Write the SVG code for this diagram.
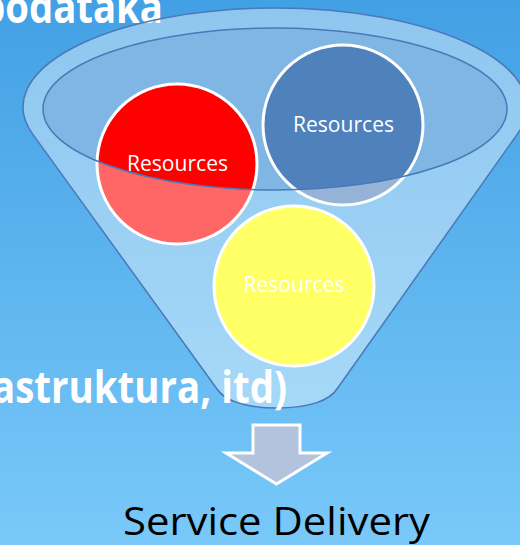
<svg xmlns="http://www.w3.org/2000/svg" width="520" height="545" viewBox="0 0 520 545">
  <defs>
    <linearGradient id="bg" x1="0" y1="0" x2="0" y2="1">
      <stop offset="0" stop-color="#42A0E4"/>
      <stop offset="1" stop-color="#79C9F9"/>
    </linearGradient>
    <style>
      .res { fill: #FFFFFF; font-family: "Open Sans", "Liberation Sans", sans-serif; font-size: 22px; text-anchor: middle; }
      .big { fill: #FFFFFF; font-family: "Open Sans", "Liberation Sans", sans-serif; font-weight: bold; font-size: 44px; text-anchor: end; }
      .circ { stroke: #FFFFFF; stroke-width: 3; }
      .outline { fill: none; stroke: #4A78B8; stroke-width: 1.5; }
    </style>
  </defs>

  <rect x="0" y="0" width="520" height="545" fill="url(#bg)"/>

  <text class="big" x="163" y="23" textLength="182" lengthAdjust="spacingAndGlyphs">podataka</text>

  <g id="funnel-top">
    <ellipse cx="275" cy="109" rx="232" ry="81" fill="#7FB6E3"/>
  </g>

  <g id="res-red">
    <circle class="circ" cx="177" cy="164" r="80" fill="#FF0000"/>
  </g>
  <g id="res-blue">
    <circle class="circ" cx="343" cy="125" r="80" fill="#4F81BD"/>
  </g>
  <g id="res-yellow">
    <circle class="circ" cx="294" cy="286" r="80" fill="#FFFF00"/>
  </g>

  <g id="funnel">
    <path fill="#FFFFFF" fill-opacity="0.4" fill-rule="evenodd"
      d="M32.5,133.9 A252,99 0 1,1 517.5,133.9 L337,389 C330,400 310,408 277,408 C244,408 224,400 217,389 Z
         M43,109 A232,81 0 1,0 507,109 A232,81 0 1,0 43,109 Z"/>
    <path class="outline" d="M32.5,133.9 A252,99 0 1,1 517.5,133.9 L337,389 C330,400 310,408 277,408 C244,408 224,400 217,389 Z"/>
    <ellipse class="outline" cx="275" cy="109" rx="232" ry="81"/>
  </g>

  <text class="res" x="177.5" y="171" textLength="101" lengthAdjust="spacingAndGlyphs">Resources</text>
  <text class="res" x="343.5" y="132" textLength="101" lengthAdjust="spacingAndGlyphs">Resources</text>
  <text class="res" x="294" y="292" textLength="101" lengthAdjust="spacingAndGlyphs">Resources</text>

  <text class="big" x="287" y="403" textLength="295" lengthAdjust="spacingAndGlyphs">astruktura, itd)</text>

  <g id="arrow">
    <polygon points="253,425 300,425 300,453 327,453 276.5,484 226,453 253,453" fill="#B3C2DD" stroke="#FFFFFF" stroke-width="3" stroke-linejoin="miter"/>
  </g>

  <g id="service-delivery">
    <text x="123" y="535" font-family="'Open Sans', 'Liberation Sans', sans-serif" font-size="38" fill="#000000" textLength="307" lengthAdjust="spacingAndGlyphs">Service Delivery</text>
  </g>
</svg>
